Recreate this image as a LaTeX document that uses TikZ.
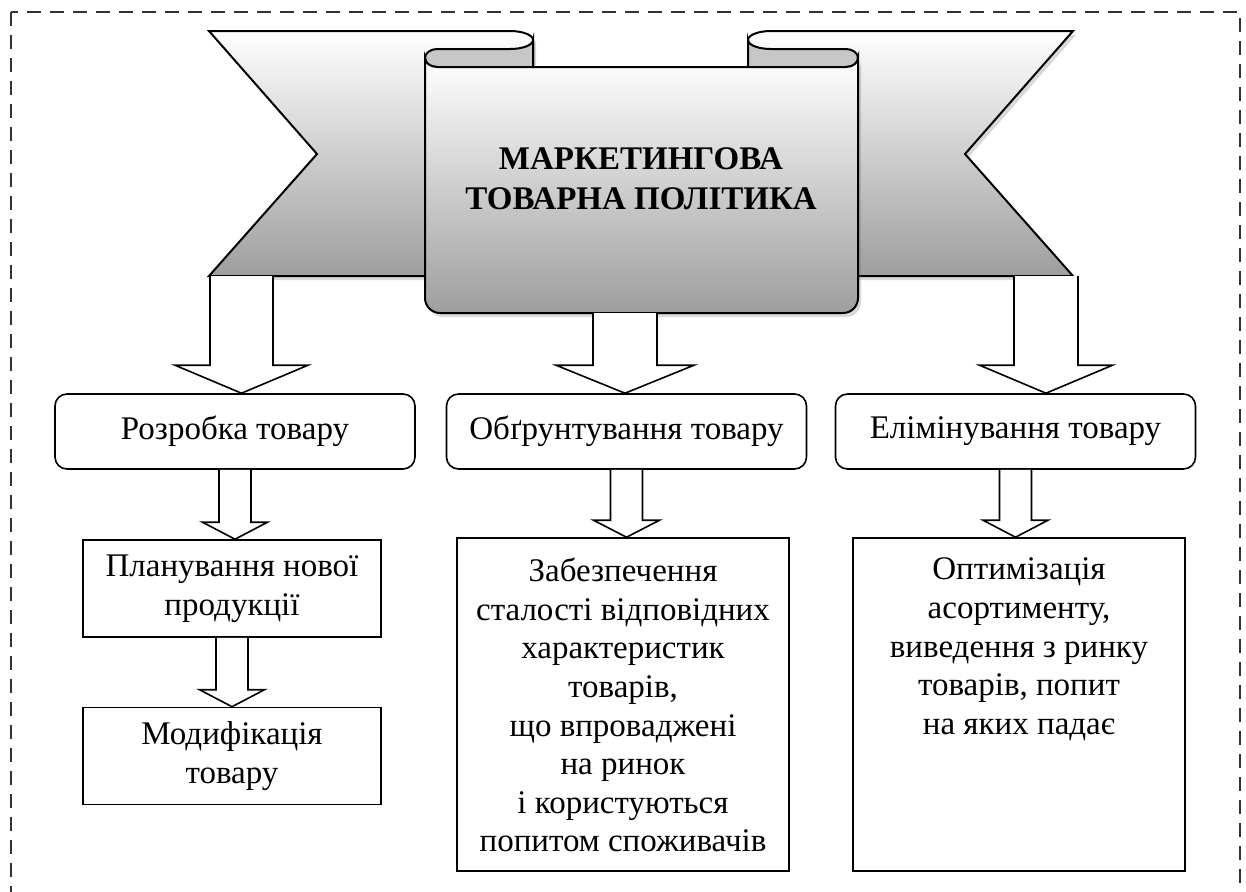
\documentclass[tikz,border=0pt]{standalone}
\usepackage{fontspec}
\setmainfont{Liberation Serif}
\usetikzlibrary{calc,shadows}

\definecolor{bandgray}{gray}{0.62}
\definecolor{tubegray}{gray}{0.78}

% block arrow: from, to, shaft half, head half, head length
\newcommand{\blockarrow}[5]{%
  \draw[blockarr] let \p1=(#1), \p2=(#2) in
    (\x1-#3,\y1) -- (\x1-#3,\y2+#5) -- (\x1-#4,\y2+#5) -- (\x1,\y2)
    -- (\x1+#4,\y2+#5) -- (\x1+#3,\y2+#5) -- (\x1+#3,\y1);}

\begin{document}
\begin{tikzpicture}[x=0.5pt, y=-0.5pt,
    every node/.style={font=\fontsize{16.5}{19.3}\selectfont},
    roundbox/.style={draw, line width=0.8pt, rounded corners=6pt, minimum width=180pt, minimum height=37.5pt, inner sep=0pt},
    plainbox/.style={draw, line width=0.8pt, minimum width=149pt, minimum height=48.5pt, inner sep=0pt, align=center},
    bigbox/.style={draw, line width=0.8pt, inner sep=0pt},
    blockarr/.style={draw, fill=white, line width=0.8pt, line join=miter},
    band/.style={draw, line width=1pt, top color=white, bottom color=bandgray,
      drop shadow={shadow xshift=1.5pt, shadow yshift=-2pt, opacity=.3}},
    tube/.style={draw, line width=1pt, fill=tubegray},
    frame/.style={draw=black!80, line width=1pt, dash pattern=on 7pt off 4.5pt}]

    \useasboundingbox (0,0) rectangle (1246,891);
    \begin{scope}
        \clip (0,0) rectangle (1246,891);
        \draw[frame] (11,12) rectangle (1240,960);
    \end{scope}

    % wings
    \draw[band] (209,31) -- (510,31) arc[start angle=-90, end angle=0, x radius=23, y radius=9]
        -- (533,276) -- (209,276) -- (317,154) -- cycle;
    \draw[band] (1073,31) -- (771,31) arc[start angle=-90, end angle=-180, x radius=23, y radius=9]
        -- (748,276) -- (1073,276) -- (965,154) -- cycle;

    % rolled ends
    \draw[tube] (533,40) arc[start angle=0, end angle=90, x radius=23, y radius=9]
        -- (437,49) arc[start angle=-90, end angle=-270, x radius=12, y radius=9]
        -- (533,67) -- cycle;
    \draw[tube] (748,40) arc[start angle=180, end angle=90, x radius=23, y radius=9]
        -- (846,49) arc[start angle=-90, end angle=90, x radius=12, y radius=9]
        -- (748,67) -- cycle;

    % front panel
    \draw[band] (425,58) -- (425,298) arc[start angle=180, end angle=90, radius=15]
        -- (843,313) arc[start angle=90, end angle=0, radius=15]
        -- (858,58) arc[start angle=0, end angle=90, x radius=12, y radius=9]
        -- (437,67) arc[start angle=90, end angle=180, x radius=12, y radius=9] -- cycle;

    \node[font=\fontsize{16.5}{20}\selectfont\bfseries, align=center] (title) at (641,179)
        {МАРКЕТИНГОВА\\ТОВАРНА ПОЛІТИКА};

    \coordinate (wingL) at (241.5,276);
    \coordinate (panelbot) at (625,313);
    \coordinate (wingR) at (1046,276);

    \node[roundbox] (roz) at (235,431.5) {Розробка товару};
    \node[roundbox] (obg) at (626.5,431.5) {Обґрунтування товару};
    \node[roundbox] (elim) at (1015.5,431.5) {Елімінування товару};

    \node[plainbox] (plan) at (232,588.5) {Планування нової\\продукції};
    \node[plainbox] (mod) at (232,756) {Модифікація\\товару};

    \node[bigbox] (zab) at (623,704.5) {\parbox[c][166.5pt][t]{166pt}{\centering\vspace*{10pt}%
        Забезпечення\\ сталості відповідних\\ характеристик\\ товарів,\\ що впроваджені\\ на ринок\\
        і користуються\\ попитом споживачів}};
    \node[bigbox] (opt) at (1019,704.5) {\parbox[c][166.5pt][t]{166pt}{\centering\vspace*{10pt}%
        Оптимізація\\ асортименту,\\ виведення з ринку\\ товарів, попит\\ на яких падає}};

    \blockarrow{wingL}{roz.north}{15.75pt}{33.25pt}{14pt}
    \blockarrow{panelbot}{obg.north}{16pt}{34.5pt}{14pt}
    \blockarrow{wingR}{elim.north}{16pt}{33.25pt}{14pt}

    \blockarrow{roz.south}{plan.north}{8pt}{16.25pt}{8.5pt}
    \blockarrow{plan.south}{mod.north}{8pt}{16.25pt}{8.5pt}
    \blockarrow{obg.south}{zab.north}{8pt}{16.5pt}{8.5pt}
    \blockarrow{elim.south}{opt.north}{8pt}{16.25pt}{8.5pt}
\end{tikzpicture}
\end{document}
